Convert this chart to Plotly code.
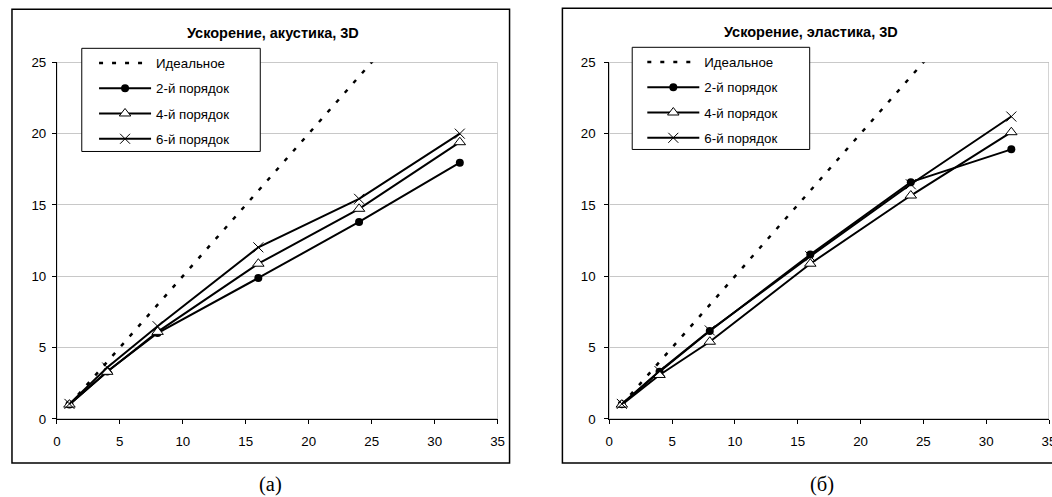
import plotly.graph_objects as go

# Target picture: 1052x497. Figure size chosen so that the photographed page
# lines up with the reference picture coordinates.
TW, TH = 1052, 497
FW, FH = 1060, 505
SY = 513 / 497
PAD_Y = 8

# ---------------- data ----------------
procs = [1, 4, 8, 16, 24, 32]
ideal = [1, 4, 8, 16, 24, 32]

ac_order2 = [1.0, 3.32, 6.02, 9.88, 13.81, 17.96]
ac_order4 = [1.0, 3.3, 6.1, 10.88, 14.73, 19.4]
ac_order6 = [1.05, 3.6, 6.5, 12.03, 15.43, 20.0]

el_order2 = [1.03, 3.31, 6.16, 11.52, 16.6, 18.9]
el_order4 = [1.0, 3.08, 5.41, 10.88, 15.66, 20.1]
el_order6 = [1.05, 3.35, 6.2, 11.4, 16.45, 21.2]

series_names = ["Идеальное", "2-й порядок", "4-й порядок", "6-й порядок"]
titles = ["Ускорение, акустика, 3D", "Ускорение, эластика, 3D"]
captions = ["(а)", "(б)"]
x_ticks = [0, 5, 10, 15, 20, 25, 30, 35]
y_ticks = [0, 5, 10, 15, 20, 25]


def px(t):
    return t / TW


def py(t):
    return 1 - (t * SY - PAD_Y) / FH


FONT = "Liberation Sans, Arial, sans-serif"

fig = go.Figure()

panels = [
    dict(xa="x", ya="y", legend="legend", data=[ac_order2, ac_order4, ac_order6]),
    dict(xa="x2", ya="y2", legend="legend2", data=[el_order2, el_order4, el_order6]),
]

for i, p in enumerate(panels):
    fig.add_trace(go.Scatter(
        x=procs, y=ideal, mode="lines", name=series_names[0],
        line=dict(color="black", width=2.5, dash="4px,9px"),
        xaxis=p["xa"], yaxis=p["ya"], legend=p["legend"], legendgroup=f"g{i}0",
    ))
    fig.add_trace(go.Scatter(
        x=procs, y=p["data"][0], mode="lines+markers", name=series_names[1],
        line=dict(color="black", width=2),
        marker=dict(symbol="circle", size=8, color="black"),
        xaxis=p["xa"], yaxis=p["ya"], legend=p["legend"], legendgroup=f"g{i}1",
    ))
    fig.add_trace(go.Scatter(
        x=procs, y=p["data"][1], mode="lines+markers", name=series_names[2],
        line=dict(color="black", width=2),
        marker=dict(symbol="triangle-up", size=10, color="white",
                    line=dict(color="black", width=1)),
        xaxis=p["xa"], yaxis=p["ya"], legend=p["legend"], legendgroup=f"g{i}2",
    ))
    fig.add_trace(go.Scatter(
        x=procs, y=p["data"][2], mode="lines+markers", name=series_names[3],
        line=dict(color="black", width=2),
        marker=dict(symbol="x-thin", size=10, color="black",
                    line=dict(color="black", width=1)),
        xaxis=p["xa"], yaxis=p["ya"], legend=p["legend"], legendgroup=f"g{i}3",
    ))

axis_common = dict(
    showline=True, linecolor="black", linewidth=1,
    ticks="outside", ticklen=4, tickcolor="black", tickwidth=1,
    zeroline=False, fixedrange=True,
    tickfont=dict(family=FONT, size=13.3, color="black"),
)

ydom = [py(419), py(63)]

fig.update_layout(
    xaxis=dict(domain=[px(53), px(495)], range=[0, 35], tickvals=x_ticks,
               showgrid=False, anchor="y", ticklabelstandoff=6, **axis_common),
    yaxis=dict(domain=ydom, range=[0, 25], tickvals=y_ticks,
               showgrid=True, gridcolor="#c8c8c8", gridwidth=1, anchor="x",
               ticklabelstandoff=3, **axis_common),
    xaxis2=dict(domain=[px(607), min(1.0, px(1048))], range=[0, 35], tickvals=x_ticks,
                showgrid=False, anchor="y2", ticklabelstandoff=6, **axis_common),
    yaxis2=dict(domain=ydom, range=[0, 25], tickvals=y_ticks,
                showgrid=True, gridcolor="#c8c8c8", gridwidth=1, anchor="x2",
                ticklabelstandoff=6, **axis_common),
)

legend_common = dict(
    xanchor="left", yanchor="top", bgcolor="rgba(0,0,0,0)", borderwidth=0,
    font=dict(family=FONT, size=13.3, color="black"),
    itemwidth=52, tracegroupgap=5, traceorder="grouped",
)
fig.update_layout(
    legend=dict(x=91 / FW, y=1 - 42 / FH, **legend_common),
    legend2=dict(x=645 / FW, y=1 - 41 / FH, **legend_common),
)

shapes = []
# outer frames
shapes.append(dict(type="rect", xref="paper", yref="paper",
                   x0=px(8), x1=px(507), y0=py(463), y1=py(10),
                   line=dict(color="black", width=1.5), layer="below"))
shapes.append(dict(type="rect", xref="paper", yref="paper",
                   x0=px(560), x1=px(1075), y0=py(463), y1=py(9),
                   line=dict(color="black", width=1.5), layer="below"))
# plot area borders (grey)
for xa, ya in (("x", "y"), ("x2", "y2")):
    shapes.append(dict(type="rect", xref=xa, yref=ya, x0=0, x1=35, y0=0, y1=25,
                       line=dict(color="#a8a8a8", width=1), layer="below"))
# legend boxes
shapes.append(dict(type="rect", xref="paper", yref="paper",
                   x0=px(78), x1=px(257), y0=py(152), y1=py(49),
                   line=dict(color="black", width=1), fillcolor="white", layer="above"))
shapes.append(dict(type="rect", xref="paper", yref="paper",
                   x0=px(630), x1=px(808), y0=py(150), y1=py(48),
                   line=dict(color="black", width=1), fillcolor="white", layer="above"))

annotations = [
    dict(text=f"<b>{titles[0]}</b>", x=px(270), y=py(34), xref="paper", yref="paper",
         showarrow=False, xanchor="center", yanchor="middle",
         font=dict(family=FONT, size=14.5, color="black")),
    dict(text=f"<b>{titles[1]}</b>", x=px(809), y=py(33), xref="paper", yref="paper",
         showarrow=False, xanchor="center", yanchor="middle",
         font=dict(family=FONT, size=14.5, color="black")),
    dict(text=captions[0], x=px(267), y=py(485), xref="paper", yref="paper",
         showarrow=False, xanchor="center", yanchor="middle",
         font=dict(family="Liberation Serif, Times New Roman, serif", size=20.5, color="black")),
    dict(text=captions[1], x=px(820), y=py(485), xref="paper", yref="paper",
         showarrow=False, xanchor="center", yanchor="middle",
         font=dict(family="Liberation Serif, Times New Roman, serif", size=20.5, color="black")),
]

fig.update_layout(
    width=FW, height=FH, autosize=False,
    margin=dict(l=0, r=0, t=0, b=0),
    paper_bgcolor="white", plot_bgcolor="white",
    showlegend=True,
    shapes=shapes, annotations=annotations,
)

POST = "document.body.style.margin='0';"

fig.write_html("out.html", config={"displayModeBar": False}, post_script=POST)
